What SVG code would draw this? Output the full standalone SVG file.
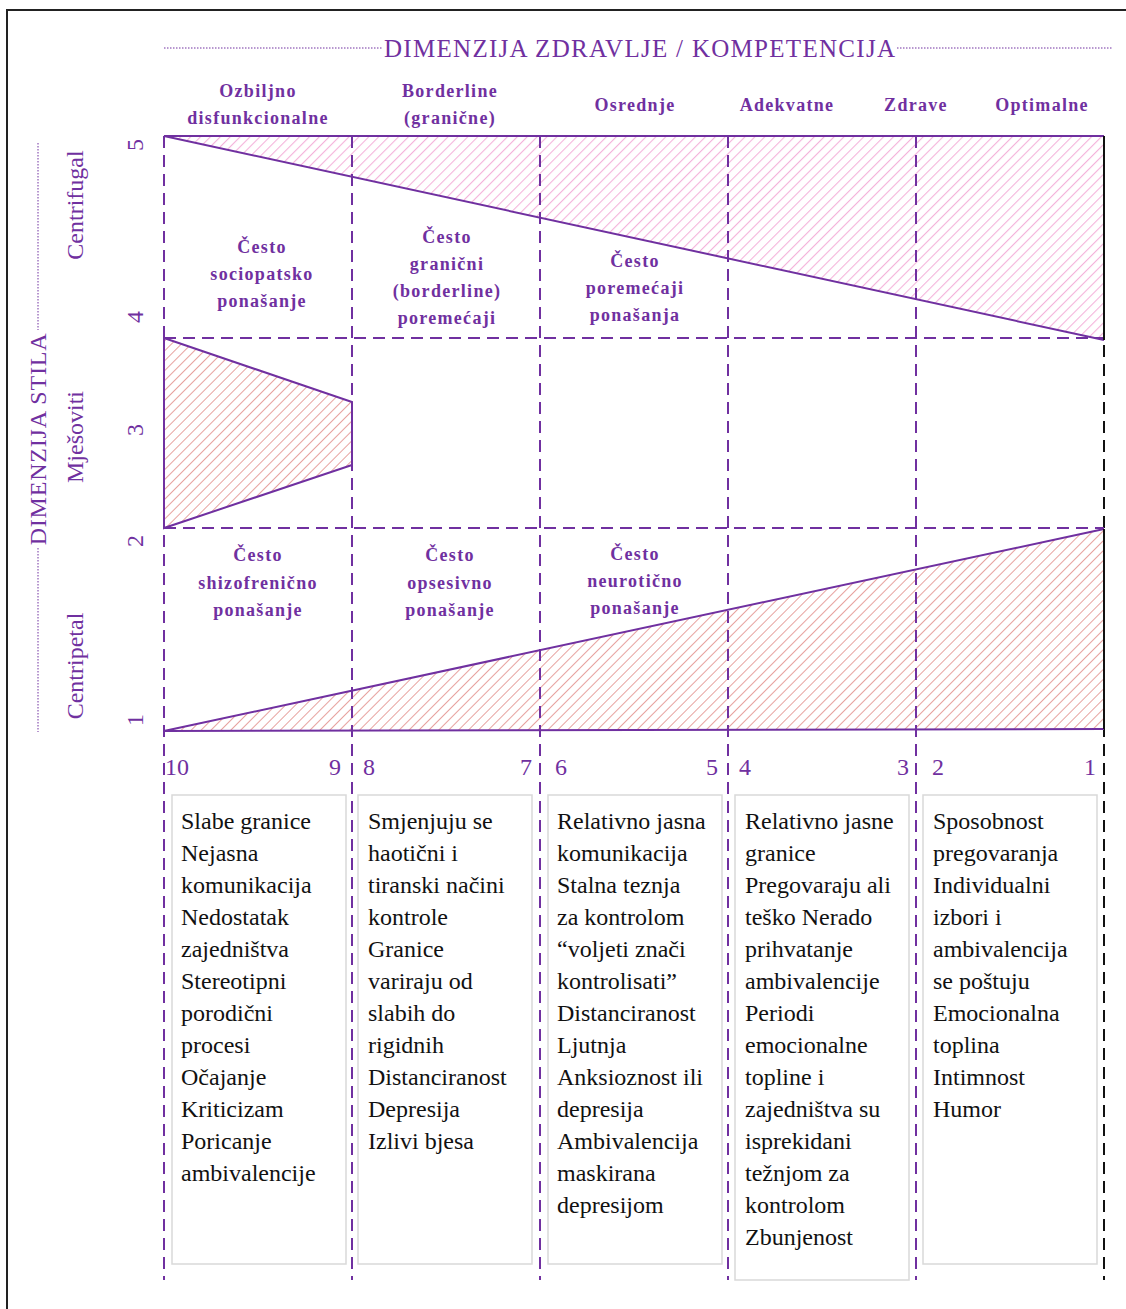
<svg xmlns="http://www.w3.org/2000/svg" width="1126" height="1309" viewBox="0 0 1126 1309">
<defs>
<pattern id="hPink" patternUnits="userSpaceOnUse" width="7" height="7" patternTransform="rotate(45)">
<line x1="0" y1="0" x2="0" y2="7" stroke="#f4b2da" stroke-width="2.2"/>
</pattern>
<pattern id="hSalmon" patternUnits="userSpaceOnUse" width="7" height="7" patternTransform="rotate(45)">
<line x1="0" y1="0" x2="0" y2="7" stroke="#e7a29f" stroke-width="2"/>
</pattern>
<style>
.p{fill:#7030a0;font-family:"Liberation Serif",serif}
.ax{font-size:24px}
.ttl{font-size:25px}
.hd{font-size:18px;font-weight:bold;letter-spacing:1.3px;text-anchor:middle}
.num{font-size:24px}
.bx{fill:#fff;stroke:#d9d9d9;stroke-width:1.5}
.bt{fill:#111;font-family:"Liberation Serif",serif;font-size:24px}
.dash{stroke:#7030a0;stroke-width:2;stroke-dasharray:12 7;fill:none}
.dot{stroke:#7030a0;stroke-width:1;stroke-dasharray:1.5 1.5;fill:none}
.edge{stroke:#7030a0;stroke-width:2;fill:none}
</style>
</defs>
<rect width="1126" height="1309" fill="#fff"/>
<path d="M7,1309 V10 H1126" fill="none" stroke="#222" stroke-width="2"/>

<g id="axis-top">
<line class="dot" x1="164" y1="48" x2="382" y2="48"/>
<line class="dot" x1="897" y1="48" x2="1112" y2="48"/>
<text class="p ttl" x="384" y="57" textLength="511" lengthAdjust="spacing">DIMENZIJA ZDRAVLJE / KOMPETENCIJA</text>
</g>

<g id="axis-left">
<line class="dot" x1="38" y1="143" x2="38" y2="330"/>
<line class="dot" x1="38" y1="548" x2="38" y2="732"/>
<text class="p ax" text-anchor="middle" letter-spacing="0.8" transform="translate(46,439) rotate(-90)">DIMENZIJA STILA</text>
<text class="p ax" text-anchor="middle" transform="translate(83,205) rotate(-90)">Centrifugal</text>
<text class="p ax" text-anchor="middle" transform="translate(83,437) rotate(-90)">Mješoviti</text>
<text class="p ax" text-anchor="middle" transform="translate(83,666) rotate(-90)">Centripetal</text>
<text class="p num" text-anchor="middle" transform="translate(143,145) rotate(-90)">5</text>
<text class="p num" text-anchor="middle" transform="translate(143,317) rotate(-90)">4</text>
<text class="p num" text-anchor="middle" transform="translate(143,430) rotate(-90)">3</text>
<text class="p num" text-anchor="middle" transform="translate(143,541) rotate(-90)">2</text>
<text class="p num" text-anchor="middle" transform="translate(143,720) rotate(-90)">1</text>
</g>

<g id="column-headers">
<text class="p hd" x="258" y="97">Ozbiljno</text>
<text class="p hd" x="258" y="124">disfunkcionalne</text>
<text class="p hd" x="450" y="97">Borderline</text>
<text class="p hd" x="450" y="124">(granične)</text>
<text class="p hd" x="635" y="111">Osrednje</text>
<text class="p hd" x="787" y="111">Adekvatne</text>
<text class="p hd" x="916" y="111">Zdrave</text>
<text class="p hd" x="1042" y="111">Optimalne</text>
</g>

<g id="hatched-areas">
<polygon points="164,136 1104,136 1104,340" fill="url(#hPink)" stroke="none"/>
<polygon points="164,338 352,402 352,465 164,528" fill="url(#hSalmon)" stroke="none"/>
<polygon points="164,731 1104,529 1104,729" fill="url(#hSalmon)" stroke="none"/>
</g>

<g id="connectors">
<line class="dash" x1="164" y1="136" x2="164" y2="1280"/>
<line class="dash" x1="352" y1="136" x2="352" y2="1280"/>
<line class="dash" x1="540" y1="136" x2="540" y2="1280"/>
<line class="dash" x1="728" y1="136" x2="728" y2="1280"/>
<line class="dash" x1="916" y1="136" x2="916" y2="1280"/>
<line x1="1104" y1="136" x2="1104" y2="1280" stroke="#111" stroke-width="2" stroke-dasharray="12 7"/>
<line class="dash" x1="164" y1="338" x2="1104" y2="338"/>
<line class="dash" x1="164" y1="528" x2="1104" y2="528"/>
<polyline class="edge" points="1104,136 164,136 1104,340"/>
<polygon class="edge" points="164,338 352,402 352,465 164,528"/>
<polyline class="edge" points="1104,529 164,731 1104,729"/>
<line x1="1104" y1="136" x2="1104" y2="340" stroke="#111" stroke-width="2"/>
<line x1="1104" y1="529" x2="1104" y2="729" stroke="#111" stroke-width="2"/>
</g>

<g id="cell-labels">
<text class="p hd" x="262" y="253">Često</text>
<text class="p hd" x="262" y="280">sociopatsko</text>
<text class="p hd" x="262" y="307">ponašanje</text>
<text class="p hd" x="447" y="243">Često</text>
<text class="p hd" x="447" y="270">granični</text>
<text class="p hd" x="447" y="297">(borderline)</text>
<text class="p hd" x="447" y="324">poremećaji</text>
<text class="p hd" x="635" y="267">Često</text>
<text class="p hd" x="635" y="294">poremećaji</text>
<text class="p hd" x="635" y="321">ponašanja</text>
<text class="p hd" x="258" y="561">Često</text>
<text class="p hd" x="258" y="589">shizofrenično</text>
<text class="p hd" x="258" y="616">ponašanje</text>
<text class="p hd" x="450" y="561">Često</text>
<text class="p hd" x="450" y="589">opsesivno</text>
<text class="p hd" x="450" y="616">ponašanje</text>
<text class="p hd" x="635" y="560">Često</text>
<text class="p hd" x="635" y="587">neurotično</text>
<text class="p hd" x="635" y="614">ponašanje</text>
</g>

<g id="scale-numbers">
<text class="p num" x="165" y="775">10</text>
<text class="p num" x="341" y="775" text-anchor="end">9</text>
<text class="p num" x="363" y="775">8</text>
<text class="p num" x="532" y="775" text-anchor="end">7</text>
<text class="p num" x="555" y="775">6</text>
<text class="p num" x="718" y="775" text-anchor="end">5</text>
<text class="p num" x="739" y="775">4</text>
<text class="p num" x="909" y="775" text-anchor="end">3</text>
<text class="p num" x="932" y="775">2</text>
<text class="p num" x="1096" y="775" text-anchor="end">1</text>
</g>

<g id="box1">
<rect class="bx" x="172" y="795" width="174" height="469"/>
<text class="bt" x="181" y="829">
<tspan x="181" dy="0">Slabe granice</tspan>
<tspan x="181" dy="32">Nejasna</tspan>
<tspan x="181" dy="32">komunikacija</tspan>
<tspan x="181" dy="32">Nedostatak</tspan>
<tspan x="181" dy="32">zajedništva</tspan>
<tspan x="181" dy="32">Stereotipni</tspan>
<tspan x="181" dy="32">porodični</tspan>
<tspan x="181" dy="32">procesi</tspan>
<tspan x="181" dy="32">Očajanje</tspan>
<tspan x="181" dy="32">Kriticizam</tspan>
<tspan x="181" dy="32">Poricanje</tspan>
<tspan x="181" dy="32">ambivalencije</tspan>
</text>
</g>

<g id="box2">
<rect class="bx" x="358" y="795" width="174" height="469"/>
<text class="bt" x="368" y="829">
<tspan x="368" dy="0">Smjenjuju se</tspan>
<tspan x="368" dy="32">haotični i</tspan>
<tspan x="368" dy="32">tiranski načini</tspan>
<tspan x="368" dy="32">kontrole</tspan>
<tspan x="368" dy="32">Granice</tspan>
<tspan x="368" dy="32">variraju od</tspan>
<tspan x="368" dy="32">slabih do</tspan>
<tspan x="368" dy="32">rigidnih</tspan>
<tspan x="368" dy="32">Distanciranost</tspan>
<tspan x="368" dy="32">Depresija</tspan>
<tspan x="368" dy="32">Izlivi bjesa</tspan>
</text>
</g>

<g id="box3">
<rect class="bx" x="548" y="795" width="174" height="469"/>
<text class="bt" x="557" y="829">
<tspan x="557" dy="0">Relativno jasna</tspan>
<tspan x="557" dy="32">komunikacija</tspan>
<tspan x="557" dy="32">Stalna teznja</tspan>
<tspan x="557" dy="32">za kontrolom</tspan>
<tspan x="557" dy="32">“voljeti znači</tspan>
<tspan x="557" dy="32">kontrolisati”</tspan>
<tspan x="557" dy="32">Distanciranost</tspan>
<tspan x="557" dy="32">Ljutnja</tspan>
<tspan x="557" dy="32">Anksioznost ili</tspan>
<tspan x="557" dy="32">depresija</tspan>
<tspan x="557" dy="32">Ambivalencija</tspan>
<tspan x="557" dy="32">maskirana</tspan>
<tspan x="557" dy="32">depresijom</tspan>
</text>
</g>

<g id="box4">
<rect class="bx" x="735" y="795" width="174" height="485"/>
<text class="bt" x="745" y="829">
<tspan x="745" dy="0">Relativno jasne</tspan>
<tspan x="745" dy="32">granice</tspan>
<tspan x="745" dy="32">Pregovaraju ali</tspan>
<tspan x="745" dy="32">teško Nerado</tspan>
<tspan x="745" dy="32">prihvatanje</tspan>
<tspan x="745" dy="32">ambivalencije</tspan>
<tspan x="745" dy="32">Periodi</tspan>
<tspan x="745" dy="32">emocionalne</tspan>
<tspan x="745" dy="32">topline i</tspan>
<tspan x="745" dy="32">zajedništva su</tspan>
<tspan x="745" dy="32">isprekidani</tspan>
<tspan x="745" dy="32">težnjom za</tspan>
<tspan x="745" dy="32">kontrolom</tspan>
<tspan x="745" dy="32">Zbunjenost</tspan>
</text>
</g>

<g id="box5">
<rect class="bx" x="923" y="795" width="174" height="469"/>
<text class="bt" x="933" y="829">
<tspan x="933" dy="0">Sposobnost</tspan>
<tspan x="933" dy="32">pregovaranja</tspan>
<tspan x="933" dy="32">Individualni</tspan>
<tspan x="933" dy="32">izbori i</tspan>
<tspan x="933" dy="32">ambivalencija</tspan>
<tspan x="933" dy="32">se poštuju</tspan>
<tspan x="933" dy="32">Emocionalna</tspan>
<tspan x="933" dy="32">toplina</tspan>
<tspan x="933" dy="32">Intimnost</tspan>
<tspan x="933" dy="32">Humor</tspan>
</text>
</g>
</svg>
